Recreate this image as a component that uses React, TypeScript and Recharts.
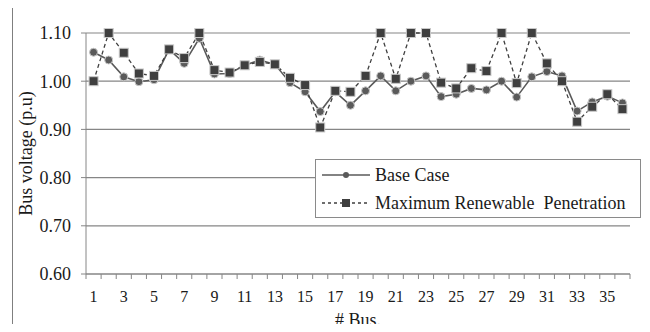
import React from 'react';
import { LineChart, Line, XAxis, YAxis, CartesianGrid } from 'recharts';

const buses = [1, 2, 3, 4, 5, 6, 7, 8, 9, 10, 11, 12, 13, 14, 15, 16, 17, 18, 19, 20, 21, 22, 23, 24, 25, 26, 27, 28, 29, 30, 31, 32, 33, 34, 35, 36];
const baseCase = [1.06, 1.044, 1.009, 0.999, 1.003, 1.066, 1.037, 1.089, 1.015, 1.016, 1.033, 1.044, 1.035, 0.997, 0.978, 0.937, 0.978, 0.95, 0.98, 1.011, 0.98, 1.0, 1.011, 0.968, 0.973, 0.985, 0.982, 1.0, 0.967, 1.009, 1.02, 1.011, 0.938, 0.957, 0.969, 0.955];
const maxRenewable = [1.0, 1.1, 1.059, 1.016, 1.011, 1.066, 1.048, 1.1, 1.023, 1.018, 1.033, 1.04, 1.035, 1.007, 0.992, 0.904, 0.98, 0.978, 1.011, 1.1, 1.005, 1.1, 1.1, 0.997, 0.985, 1.027, 1.021, 1.1, 0.996, 1.1, 1.037, 1.0, 0.916, 0.947, 0.973, 0.942];
const labelBuses = [1, 3, 5, 7, 9, 11, 13, 15, 17, 19, 21, 23, 25, 27, 29, 31, 33, 35];
const yTicks = [0.6, 0.7, 0.8, 0.9, 1.0, 1.1];
const seriesNames = ['Base Case', 'Maximum Renewable\u00a0 Penetration'];

const data = buses.map((bus, i) => ({ bus, base: baseCase[i], max: maxRenewable[i] }));
const boundaryTicks = [...buses.map((b) => b - 0.5), buses[buses.length - 1] + 0.5];
const xTicks = [...boundaryTicks, ...labelBuses].sort((a, b) => a - b);

const FONT = 'Liberation Serif';
const GRID = '#868686';
const BASE_COLOR = '#5a5a5a';
const MAX_COLOR = '#3f3f3f';
const TEXT = '#1a1a1a';

function BusTick(props: any) {
  const { x, y, payload } = props;
  const v = payload.value as number;
  if (v % 1 !== 0) {
    return <line x1={x} x2={x} y1={y} y2={y + 5} stroke={GRID} strokeWidth={1} />;
  }
  return (
    <text x={x} y={y + 28} textAnchor="middle" fontSize={16} fontFamily={FONT} fill={TEXT}>
      {v}
    </text>
  );
}

function SquareDot(props: any) {
  const { cx, cy } = props;
  if (cx == null || cy == null) return null;
  return <rect x={cx - 4.5} y={cy - 4.5} width={9} height={9} fill={MAX_COLOR} stroke="#c8c8c8" strokeWidth={1} />;
}

function YLabel(props: any) {
  const vb = props.viewBox;
  const cy = vb.y + vb.height / 2;
  return (
    <text
      transform={`translate(26, ${cy}) rotate(-90)`}
      textAnchor="middle"
      dominantBaseline="central"
      fontSize={18}
      fontFamily={FONT}
      fill={TEXT}
    >
      Bus voltage (p.u)
    </text>
  );
}

function XLabel(props: any) {
  const vb = props.viewBox;
  return (
    <text x={vb.x + vb.width / 2} y={326} textAnchor="middle" fontSize={18} fontFamily={FONT} fill={TEXT}>
      # Bus.
    </text>
  );
}

function LegendBox() {
  const row = (dashed: boolean, marker: React.ReactNode, label: string) => (
    <div style={{ display: 'flex', alignItems: 'center', height: 28 }}>
      <svg width={50} height={12} style={{ marginRight: 4 }}>
        <line x1={1} x2={49} y1={6} y2={6} stroke={dashed ? MAX_COLOR : BASE_COLOR} strokeWidth={1.3} strokeDasharray={dashed ? '3 3' : undefined} />
        {marker}
      </svg>
      <span style={{ whiteSpace: 'pre' }}>{label}</span>
    </div>
  );
  return (
    <div
      style={{
        position: 'absolute',
        left: 315,
        top: 159,
        width: 326,
        height: 59,
        border: '1px solid #8a8a8a',
        background: '#fff',
        fontFamily: FONT,
        fontSize: 18,
        color: TEXT,
        padding: '1px 0 0 5px',
        boxSizing: 'border-box',
      }}
    >
      {row(false, <circle cx={25} cy={6} r={3} fill={BASE_COLOR} />, seriesNames[0])}
      {row(true, <rect x={21} y={2} width={8} height={8} fill={MAX_COLOR} />, seriesNames[1])}
    </div>
  );
}

export default function App() {
  return (
    <div style={{ position: 'relative', margin: -8, width: 650, height: 332, overflow: 'hidden', background: '#fff' }}>
      <div
        style={{
          position: 'absolute',
          left: 12,
          top: 7,
          width: 700,
          height: 400,
          border: '1px solid #7f7f7f',
        }}
      />
      <LineChart
        width={650}
        height={332}
        data={data}
        margin={{ top: 33, right: 20, bottom: 0, left: 0 }}
        style={{ fontFamily: FONT }}
      >
        <CartesianGrid vertical={false} stroke={GRID} strokeWidth={1.2} />
        <XAxis
          dataKey="bus"
          type="number"
          domain={[0.5, 36.5]}
          ticks={xTicks}
          interval={0}
          tick={<BusTick />}
          tickLine={false}
          tickSize={0}
          tickMargin={0}
          stroke={GRID}
          height={58}
          label={<XLabel />}
        />
        <YAxis
          domain={[0.6, 1.1]}
          ticks={yTicks}
          width={86}
          tickSize={5}
          tickMargin={10}
          tickFormatter={(v: number) => v.toFixed(2)}
          tick={{ fontSize: 18, fontFamily: FONT, fill: TEXT }}
          stroke={GRID}
          label={<YLabel />}
        />
        <Line
          type="linear"
          dataKey="base"
          name={seriesNames[0]}
          stroke={BASE_COLOR}
          strokeWidth={1.6}
          dot={{ r: 4, fill: BASE_COLOR, stroke: '#c8c8c8', strokeWidth: 1 }}
          isAnimationActive={false}
        />
        <Line
          type="linear"
          dataKey="max"
          name={seriesNames[1]}
          stroke={MAX_COLOR}
          strokeWidth={1.3}
          strokeDasharray="4 3"
          dot={<SquareDot />}
          isAnimationActive={false}
        />
      </LineChart>
      <LegendBox />
    </div>
  );
}
